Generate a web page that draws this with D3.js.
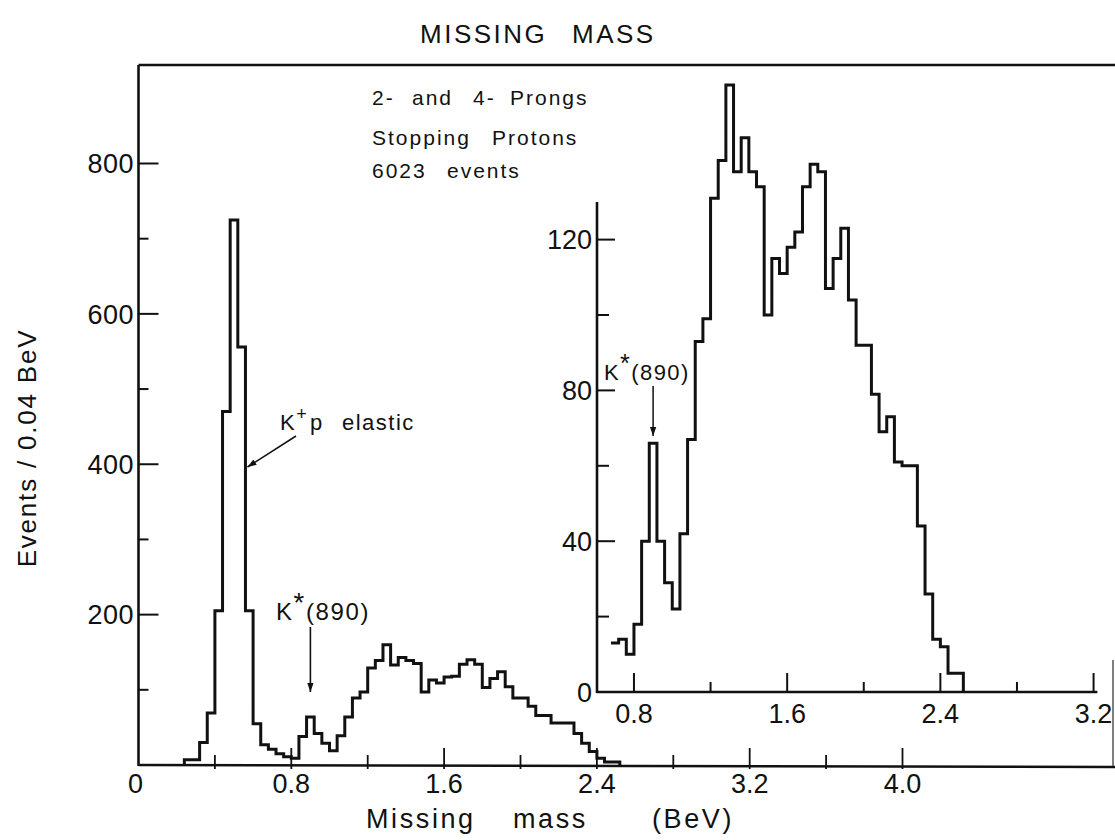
<!DOCTYPE html>
<html>
<head>
<meta charset="utf-8">
<script src="https://cdn.jsdelivr.net/npm/d3@7"></script>
<style>
  html, body { margin: 0; padding: 0; background: #ffffff; }
  svg { display: block; }
  text { font-family: "Liberation Sans", Arial, sans-serif; fill: #111; }
</style>
</head>
<body>
<svg id="chart" width="1115" height="840"></svg>
<script>
// ---------------- data ----------------
const binWidth = 0.04;                 // BeV per bin
const mainStart = 0.24;                // first bin edge of the main histogram
const mainCounts = [7, 7, 30, 69, 205, 470, 725, 556, 205, 55, 27, 21, 15, 11, 9,
  38, 64, 42, 29, 19, 39, 64, 89, 97, 129, 139, 160, 133, 143, 139, 135, 97, 113,
  109, 117, 118, 134, 140, 134, 103, 115, 124, 104, 89, 89, 78, 66, 66, 56, 56, 56,
  42, 29, 18, 9, 4, 4];
const insetStart = 0.68;               // first bin edge of the inset (magnified) histogram
const insetCounts = [13, 14, 10, 18, 40, 66, 40, 29, 22, 42, 67, 93, 99, 131, 141,
  161, 138, 147, 138, 134, 100, 115, 111, 118, 122, 134, 140, 138, 107, 115, 123,
  104, 92, 92, 79, 69, 73, 61, 60, 60, 44, 26, 14, 12, 5, 5];

const mainXTicks = [0.4, 0.8, 1.2, 1.6, 2.0, 2.4, 2.8, 3.2, 3.6, 4.0];
const mainXLabels = ["0", "0.8", "1.6", "2.4", "3.2", "4.0"];
const mainYTicks = [100, 200, 300, 400, 500, 600, 700, 800];
const mainYLabels = ["200", "400", "600", "800"];
const insetXTicks = [0.8, 1.2, 1.6, 2.0, 2.4, 2.8, 3.2];
const insetXLabels = ["0.8", "1.6", "2.4", "3.2"];
const insetYTicks = [20, 40, 60, 80, 100, 120];
const insetYLabels = ["0", "40", "80", "120"];

const titleWords = ["MISSING", "MASS"];
const xTitleWords = ["Missing", "mass", "(BeV)"];
const yTitle = "Events / 0.04 BeV";
const infoWords = [["2-", "and", "4-", "Prongs"], ["Stopping", "Protons"], ["6023", "events"]];

// ---------------- scales ----------------
const svg = d3.select("#chart");
const x = d3.scaleLinear().domain([0, 5.11]).range([138.5, 1114.5]);
const y = d3.scaleLinear().domain([0, 931]).range([765, 65]);
const xi = d3.scaleLinear().domain([0.607, 3.22]).range([597, 1097.4]);
const yi = d3.scaleLinear().domain([0, 130]).range([692, 201.9]);

const ink = "#111";

// arrow marker
svg.append("defs").append("marker")
  .attr("id", "arr").attr("viewBox", "0 0 10 10").attr("refX", 10).attr("refY", 5)
  .attr("markerWidth", 9).attr("markerHeight", 9).attr("markerUnits", "userSpaceOnUse")
  .attr("orient", "auto")
  .append("path").attr("d", "M0,1.5 L10,5 L0,8.5 Z").attr("fill", ink);

// ---------------- histogram helper ----------------
function stepPoints(start, counts, fromBaseline) {
  const pts = [];
  if (fromBaseline) pts.push([start, 0]);
  counts.forEach((c, i) => {
    pts.push([start + i * binWidth, c]);
    pts.push([start + (i + 1) * binWidth, c]);
  });
  pts.push([start + counts.length * binWidth, 0]);
  return pts;
}

// ---------------- main frame ----------------
const frame = svg.append("g").attr("stroke", ink).attr("fill", "none");
frame.append("line").attr("x1", x(0)).attr("x2", x(0)).attr("y1", y(0) + 1).attr("y2", y(931))
  .attr("stroke-width", 2.6);
frame.append("line").attr("x1", x(0)).attr("x2", 1115).attr("y1", y(931)).attr("y2", y(931))
  .attr("stroke-width", 2.6);
frame.append("line").attr("x1", x(0)).attr("x2", 1115).attr("y1", y(0)).attr("y2", y(0) + 2)
  .attr("stroke-width", 2.4);
// faint right page edge visible in the scan
frame.append("line").attr("x1", 1113).attr("x2", 1113).attr("y1", 660).attr("y2", 766)
  .attr("stroke", "#555").attr("stroke-width", 1.5);

// main y ticks (inward)
frame.selectAll(".myt").data(mainYTicks).enter().append("line")
  .attr("x1", x(0)).attr("x2", d => x(0) + (d % 200 === 0 ? 20 : 10))
  .attr("y1", d => y(d)).attr("y2", d => y(d)).attr("stroke-width", 2);
// main x ticks
frame.selectAll(".mxt").data(mainXTicks).enter().append("line")
  .attr("x1", d => x(d)).attr("x2", d => x(d))
  .attr("y1", d => y(0) + 4)
  .attr("y2", d => y(0) - (Math.abs(d / 0.8 - Math.round(d / 0.8)) < 1e-6 ? 17 : 10))
  .attr("stroke-width", 1.8);

svg.selectAll(".myl").data(mainYLabels).enter().append("text")
  .attr("x", 134).attr("y", d => y(+d)).attr("dy", "0.36em")
  .attr("text-anchor", "end").attr("font-size", 27).attr("letter-spacing", 0.5).text(d => d);
svg.selectAll(".mxl").data(mainXLabels).enter().append("text")
  .attr("x", d => x(+d) - (d === "0" ? 3 : 0)).attr("y", 793)
  .attr("text-anchor", "middle").attr("font-size", 27).text(d => d);

// ---------------- main histogram ----------------
const line = d3.line().x(d => x(d[0])).y(d => y(d[1]));
svg.append("path").datum(stepPoints(mainStart, mainCounts, true))
  .attr("d", line).attr("fill", "none").attr("stroke", ink)
  .attr("stroke-width", 3).attr("stroke-linejoin", "miter");

// ---------------- inset ----------------
const inset = svg.append("g").attr("stroke", ink).attr("fill", "none");
inset.append("line").attr("x1", xi(0.607)).attr("x2", xi(0.607)).attr("y1", yi(0) + 1).attr("y2", yi(130))
  .attr("stroke-width", 2.6);
inset.append("line").attr("x1", xi(0.607)).attr("x2", xi(3.22)).attr("y1", yi(0)).attr("y2", yi(0))
  .attr("stroke-width", 2.6);
inset.selectAll(".iyt").data(insetYTicks).enter().append("line")
  .attr("x1", xi(0.607)).attr("x2", d => xi(0.607) + (d % 40 === 0 ? 18 : 12))
  .attr("y1", d => yi(d)).attr("y2", d => yi(d)).attr("stroke-width", 2);
inset.selectAll(".ixt").data(insetXTicks).enter().append("line")
  .attr("x1", d => xi(d)).attr("x2", d => xi(d))
  .attr("y1", yi(0)).attr("y2", d => yi(0) - (Math.abs(d / 0.8 - Math.round(d / 0.8)) < 1e-6 ? 19 : 10))
  .attr("stroke-width", 2);

svg.selectAll(".iyl").data(insetYLabels).enter().append("text")
  .attr("x", 592).attr("y", d => yi(+d)).attr("dy", "0.36em")
  .attr("text-anchor", "end").attr("font-size", 27).text(d => d);
svg.selectAll(".ixl").data(insetXLabels).enter().append("text")
  .attr("x", d => xi(+d)).attr("y", 723)
  .attr("text-anchor", "middle").attr("font-size", 27).text(d => d);

const iline = d3.line().x(d => xi(d[0])).y(d => yi(d[1]));
svg.append("path").datum(stepPoints(insetStart, insetCounts, false))
  .attr("d", iline).attr("fill", "none").attr("stroke", ink)
  .attr("stroke-width", 3).attr("stroke-linejoin", "miter");

// ---------------- titles ----------------
const tt = svg.append("text").attr("y", 43).attr("font-size", 26).attr("letter-spacing", 2.5);
tt.selectAll("tspan").data(titleWords).enter().append("tspan")
  .attr("x", (d, i) => [420, 572][i]).text(d => d);

const xt = svg.append("text").attr("y", 828).attr("font-size", 27).attr("letter-spacing", 2.6);
xt.selectAll("tspan").data(xTitleWords).enter().append("tspan")
  .attr("x", (d, i) => [366, 513, 652][i]).text(d => d);

svg.append("text").attr("transform", "translate(36,448) rotate(-90)")
  .attr("text-anchor", "middle").attr("font-size", 26).attr("letter-spacing", 1.8).text(yTitle);

const infoX = [[372, 412, 473, 510], [372, 492], [372, 447]];
const infoY = [105, 145, 178];
infoWords.forEach((words, li) => {
  const t = svg.append("text").attr("y", infoY[li]).attr("font-size", 21).attr("letter-spacing", 2);
  t.selectAll("tspan").data(words).enter().append("tspan")
    .attr("x", (d, i) => infoX[li][i]).text(d => d);
});

// ---------------- annotations ----------------
// K+p elastic
const kp = svg.append("text").attr("x", 280).attr("y", 430).attr("font-size", 22).attr("letter-spacing", 1.5);
kp.append("tspan").text("K");
kp.append("tspan").attr("dy", -10).attr("font-size", 18).text("+");
kp.append("tspan").attr("x", 310).attr("dy", 10).text("p");
kp.append("tspan").attr("x", 342).text("elastic");
svg.append("line").attr("x1", 296).attr("y1", 436).attr("x2", x(0.56) + 2).attr("y2", 467)
  .attr("stroke", ink).attr("stroke-width", 1.5).attr("marker-end", "url(#arr)");

// K*(890) labels
function kstar(x0, y0, size, ls) {
  const t = svg.append("text").attr("x", x0).attr("y", y0).attr("font-size", size).attr("letter-spacing", ls);
  t.append("tspan").text("K");
  t.append("tspan").attr("dy", -8).attr("font-size", size * 1.15).text("*");
  t.append("tspan").attr("dy", 8).text("(890)");
}
kstar(276, 620, 24, 1.6);
svg.append("line").attr("x1", x(0.9)).attr("x2", x(0.9)).attr("y1", 627).attr("y2", 692)
  .attr("stroke", ink).attr("stroke-width", 1.6).attr("marker-end", "url(#arr)");

kstar(604, 380, 22, 1.4);
svg.append("line").attr("x1", xi(0.9)).attr("x2", xi(0.9)).attr("y1", 386).attr("y2", 436)
  .attr("stroke", ink).attr("stroke-width", 1.5).attr("marker-end", "url(#arr)");
</script>
</body>
</html>
